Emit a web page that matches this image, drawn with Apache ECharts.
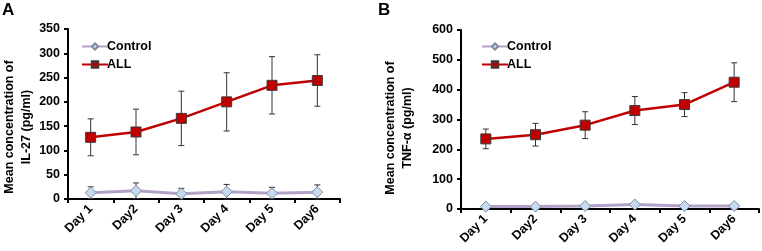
<!DOCTYPE html>
<html>
<head>
<meta charset="utf-8">
<script src="https://cdn.jsdelivr.net/npm/echarts@6/dist/echarts.min.js"></script>
<style>
  html, body { margin: 0; padding: 0; background: #fff; }
  #chart-container { width: 762px; height: 251px; }
</style>
</head>
<body>
<div id="chart-container"></div>
<script>
// data
var days = ["Day 1", "Day2", "Day 3", "Day 4", "Day 5", "Day6"];

var il27Control = [13, 17, 11, 15, 12, 14];
var il27ControlErr = [12, 16, 11, 15, 12, 15];
var il27All = [127, 138, 166, 200, 234, 244];
var il27AllErr = [38, 47, 56, 60, 59, 53];

var tnfControl = [8, 8, 10, 15, 10, 10];
var tnfControlErr = [3, 3, 3, 4, 3, 3];
var tnfAll = [235, 249, 281, 330, 350, 425];
var tnfAllErr = [33, 38, 45, 47, 40, 65];

var il27Ticks = { min: 0, max: 350, interval: 50 };
var tnfTicks = { min: 0, max: 600, interval: 100 };

var FONT = "Liberation Sans";

var chartDom = document.getElementById("chart-container");
var myChart = echarts.init(chartDom);

function errData(vals, errs) {
  return vals.map(function (v, i) {
    return [i, Math.max(0, v - errs[i]), v + errs[i]];
  });
}

function errRender(params, api) {
  var lo = api.coord([api.value(0), api.value(1)]);
  var hi = api.coord([api.value(0), api.value(2)]);
  var cap = 3;
  var style = { stroke: "#333", lineWidth: 1 };
  return {
    type: "group",
    children: [
      { type: "line", shape: { x1: lo[0], y1: lo[1], x2: hi[0], y2: hi[1] }, style: style },
      { type: "line", shape: { x1: hi[0] - cap, y1: hi[1], x2: hi[0] + cap, y2: hi[1] }, style: style },
      { type: "line", shape: { x1: lo[0] - cap, y1: lo[1], x2: lo[0] + cap, y2: lo[1] }, style: style }
    ]
  };
}

function xAxis(idx) {
  return {
    type: "category",
    gridIndex: idx,
    data: days,
    boundaryGap: true,
    axisLine: { lineStyle: { color: "#000", width: 2 } },
    axisTick: { show: true, length: 4, lineStyle: { color: "#000", width: 2 } },
    axisLabel: {
      rotate: 45, margin: 8, color: "#000",
      fontFamily: FONT, fontWeight: "bold", fontSize: 12.5
    }
  };
}

function yAxis(idx, t) {
  return {
    type: "value",
    gridIndex: idx,
    min: t.min, max: t.max, interval: t.interval,
    splitLine: { show: false },
    axisLine: { show: true, lineStyle: { color: "#000", width: 2 } },
    axisTick: { show: true, length: 4, lineStyle: { color: "#000", width: 2 } },
    axisLabel: { margin: 8, color: "#000", fontFamily: FONT, fontWeight: "bold", fontSize: 12.5 }
  };
}

function controlSeries(idx, vals) {
  return {
    name: "Control", type: "line", xAxisIndex: idx, yAxisIndex: idx,
    data: vals, z: 3,
    symbol: "diamond", symbolSize: 11,
    lineStyle: { color: "#b3a2c7", width: 3 },
    itemStyle: { color: "#c6d9f1", borderColor: "#7f8ca0", borderWidth: 1 }
  };
}

function allSeries(idx, vals) {
  return {
    name: "ALL", type: "line", xAxisIndex: idx, yAxisIndex: idx,
    data: vals, z: 3,
    symbol: "rect", symbolSize: 10,
    lineStyle: { color: "#c00000", width: 2.5 },
    itemStyle: { color: "#c00000", borderColor: "#3a3a3a", borderWidth: 1 }
  };
}

function errSeries(idx, vals, errs) {
  return {
    type: "custom", xAxisIndex: idx, yAxisIndex: idx, z: 2,
    renderItem: errRender, data: errData(vals, errs), silent: true
  };
}

function legend(left, top) {
  return {
    data: ["Control", "ALL"], left: left, top: top, orient: "vertical",
    itemWidth: 26, itemHeight: 8, itemGap: 5,
    textStyle: { color: "#000", fontFamily: FONT, fontWeight: "bold", fontSize: 12.5, padding: [0, 0, 0, -6] }
  };
}

function titleText(x, y, text) {
  return {
    type: "text", x: x, y: y, rotation: Math.PI / 2,
    style: {
      text: text, fill: "#000", align: "center", verticalAlign: "middle",
      font: "bold 12.5px " + FONT, lineHeight: 17
    }
  };
}

var option = {
  animation: false,
  backgroundColor: "#fff",
  grid: [
    { left: 68, top: 29, width: 272, height: 170 },
    { left: 461, top: 30, width: 298, height: 179 }
  ],
  xAxis: [xAxis(0), xAxis(1)],
  yAxis: [yAxis(0, il27Ticks), yAxis(1, tnfTicks)],
  legend: [legend(76, 35), legend(476, 35)],
  graphic: [
    { type: "text", x: 2, y: 2, style: { text: "A", fill: "#000", font: "bold 17px " + FONT } },
    { type: "text", x: 378, y: 2, style: { text: "B", fill: "#000", font: "bold 17px " + FONT } },
    titleText(18, 127, "Mean concentration of\nIL-27 (pg/ml)"),
    titleText(399, 128, "Mean concentration of\nTNF-α (pg/ml)")
  ],
  series: [
    errSeries(0, il27Control, il27ControlErr),
    errSeries(0, il27All, il27AllErr),
    controlSeries(0, il27Control),
    allSeries(0, il27All),
    errSeries(1, tnfControl, tnfControlErr),
    errSeries(1, tnfAll, tnfAllErr),
    controlSeries(1, tnfControl),
    allSeries(1, tnfAll)
  ]
};

option && myChart.setOption(option);

window.addEventListener("resize", function () {
  myChart.resize();
});
</script>
</body>
</html>
